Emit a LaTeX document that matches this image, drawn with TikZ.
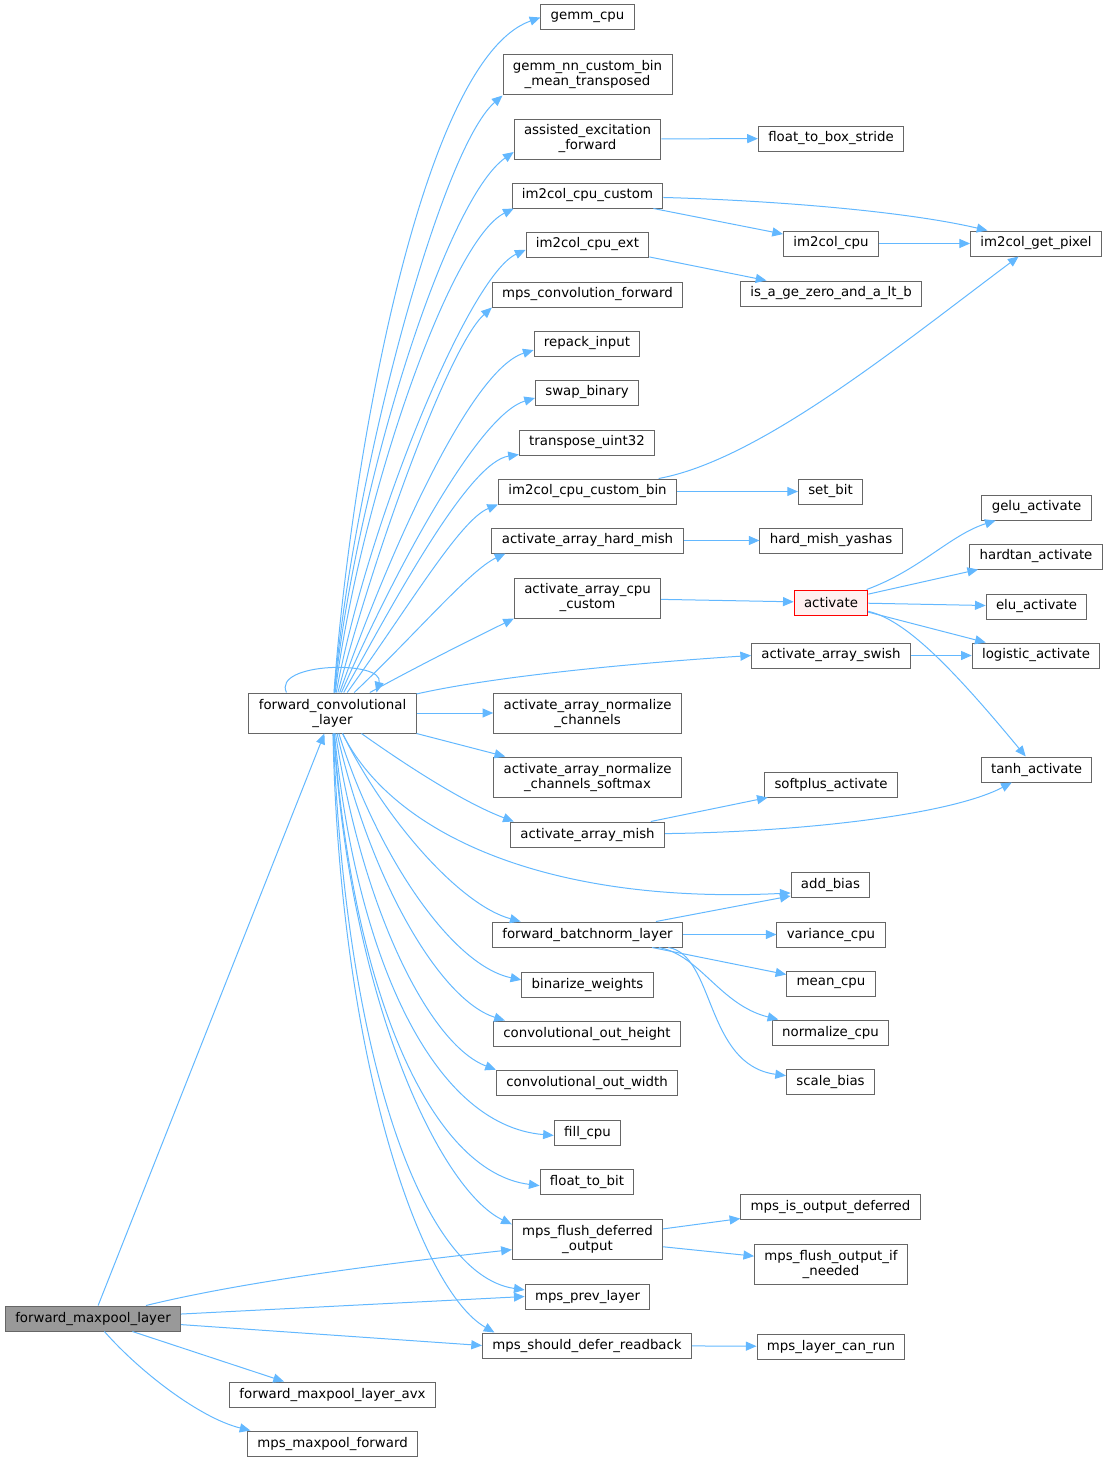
\documentclass[tikz,border=0pt]{standalone}
\usepackage{fontspec}
\setmainfont{DejaVu Sans}
\usetikzlibrary{arrows.meta}
\definecolor{callblue}{HTML}{63B8FF}
\definecolor{boxgray}{HTML}{666666}
\definecolor{rootgray}{HTML}{999999}
\definecolor{hotfill}{HTML}{FFF0F0}
\begin{document}
\begin{tikzpicture}[x=0.75pt,y=-0.75pt,
  fn/.style={draw=boxgray, fill=white, line width=0.75pt, inner xsep=7.4pt, inner ysep=2pt, minimum height=18.75pt, align=center, font=\fontsize{10}{11.25}\selectfont},
  fntwo/.style={fn, minimum height=30pt},
  root/.style={fn, fill=rootgray},
  hot/.style={fn, draw=red, fill=hotfill},
  call/.style={draw=callblue, line width=0.75pt, -{Triangle[length=8pt,width=6.8pt]}}]
\useasboundingbox (0,0) rectangle (1108,1463);
\node [root] (fml) at (93,1318.5) {forward\_maxpool\_layer};
\node [fntwo] (fcl) at (332.5,713) {forward\_convolutional\\\_layer};
\node [fn] (gemmcpu) at (587.5,17.5) {gemm\_cpu};
\node [fntwo] (gemmnn) at (587.5,75) {gemm\_nn\_custom\_bin\\\_mean\_transposed};
\node [fntwo] (assisted) at (587.5,139) {assisted\_excitation\\\_forward};
\node [fn] (imcustom) at (587.5,195.5) {im2col\_cpu\_custom};
\node [fn] (imext) at (587.5,244.5) {im2col\_cpu\_ext};
\node [fn] (mpsconv) at (587.5,294.5) {mps\_convolution\_forward};
\node [fn] (repack) at (587,343.5) {repack\_input};
\node [fn] (swapbin) at (587,392.5) {swap\_binary};
\node [fn] (transpose) at (587,442.5) {transpose\_uint32};
\node [fn] (imbin) at (587.5,491.5) {im2col\_cpu\_custom\_bin};
\node [fn] (hardmish) at (587.5,540.5) {activate\_array\_hard\_mish};
\node [fntwo] (cpucustom) at (587.5,598) {activate\_array\_cpu\\\_custom};
\node [fntwo] (normch) at (587.5,713) {activate\_array\_normalize\\\_channels};
\node [fntwo] (normsoft) at (587.5,777) {activate\_array\_normalize\\\_channels\_softmax};
\node [fn] (mish) at (587.5,834.5) {activate\_array\_mish};
\node [fn] (batchnorm) at (587.5,934.5) {forward\_batchnorm\_layer};
\node [fn] (binarize) at (587.5,984.5) {binarize\_weights};
\node [fn] (outh) at (587,1033.5) {convolutional\_out\_height};
\node [fn] (outw) at (587,1082.5) {convolutional\_out\_width};
\node [fn] (fillcpu) at (587.5,1132.5) {fill\_cpu};
\node [fn] (floatbit) at (587,1181.5) {float\_to\_bit};
\node [fntwo] (flush) at (587.5,1239) {mps\_flush\_deferred\\\_output};
\node [fn] (prevlayer) at (587.5,1296.5) {mps\_prev\_layer};
\node [fn] (defer) at (587,1345.5) {mps\_should\_defer\_readback};
\node [fn] (maxavx) at (332.5,1394.5) {forward\_maxpool\_layer\_avx};
\node [fn] (mpsmax) at (332.5,1443.5) {mps\_maxpool\_forward};
\node [fn] (boxstride) at (831,138.5) {float\_to\_box\_stride};
\node [fn] (imcpu) at (831,243.5) {im2col\_cpu};
\node [fn] (isage) at (831,293.5) {is\_a\_ge\_zero\_and\_a\_lt\_b};
\node [fn] (setbit) at (830.5,491.5) {set\_bit};
\node [fn] (yashas) at (831,540.5) {hard\_mish\_yashas};
\node [hot] (activate) at (831,602.5) {activate};
\node [fn] (swish) at (831,655.5) {activate\_array\_swish};
\node [fn] (softplus) at (831,784.5) {softplus\_activate};
\node [fn] (addbias) at (830.5,884.5) {add\_bias};
\node [fn] (variance) at (831,934.5) {variance\_cpu};
\node [fn] (meancpu) at (831,983.5) {mean\_cpu};
\node [fn] (normcpu) at (830.5,1032.5) {normalize\_cpu};
\node [fn] (scalebias) at (830.5,1081.5) {scale\_bias};
\node [fn] (isdeferred) at (830.5,1206.5) {mps\_is\_output\_deferred};
\node [fntwo] (flushif) at (831,1264) {mps\_flush\_output\_if\\\_needed};
\node [fn] (canrun) at (831,1346.5) {mps\_layer\_can\_run};
\node [fn] (getpixel) at (1036,243.5) {im2col\_get\_pixel};
\node [fn] (gelu) at (1036.5,507.5) {gelu\_activate};
\node [fn] (hardtan) at (1036,556.5) {hardtan\_activate};
\node [fn] (elu) at (1036.5,606.5) {elu\_activate};
\node [fn] (logistic) at (1036,655.5) {logistic\_activate};
\node [fn] (tanh) at (1036.5,769.5) {tanh\_activate};
\draw [call] (fml) -- (fcl);
\draw [call] (fml) .. controls (250,1280) and (400,1262) .. (flush.188);
\draw [call] (fml) -- (prevlayer.west);
\draw [call] (fml) -- (defer.west);
\draw [call] (fml) -- (maxavx.165);
\draw [call] (fml) .. controls (140,1372) and (200,1418) .. (mpsmax.171);
\draw [call] (fcl.156) .. controls (272,662) and (385,660) .. (fcl.25);
\draw [call] (fcl) .. controls (350,470) and (420,60) .. (gemmcpu.west);
\draw [call] (fcl) .. controls (352,480) and (440,150) .. (gemmnn.south west);
\draw [call] (fcl) .. controls (355,490) and (445,200) .. (assisted.190);
\draw [call] (fcl) .. controls (360,500) and (450,240) .. (imcustom.190);
\draw [call] (fcl) .. controls (368,520) and (470,275) .. (imext.185);
\draw [call] (fcl) .. controls (378,540) and (450,345) .. (mpsconv.south west);
\draw [call] (fcl) .. controls (388,555) and (470,370) .. (repack.187);
\draw [call] (fcl) .. controls (394,572) and (478,415) .. (swapbin.186);
\draw [call] (fcl) .. controls (400,590) and (470,462) .. (transpose.190);
\draw [call] (fcl) .. controls (410,605) and (460,520) .. (imbin.south west);
\draw [call] (fcl) .. controls (415,635) and (470,570) .. (hardmish.189);
\draw [call] (fcl) .. controls (420,665) and (470,640) .. (cpucustom.south west);
\draw [call] (fcl) .. controls (500,675) and (650,662) .. (swish.west);
\draw [call] (fcl) -- (normch);
\draw [call] (fcl.south east) -- (normsoft.166);
\draw [call] (fcl) .. controls (420,775) and (470,805) .. (mish.170);
\draw [call] (fcl) .. controls (390,830) and (540,905) .. (addbias.192);
\draw [call] (fcl) .. controls (385,820) and (460,905) .. (batchnorm.169);
\draw [call] (fcl) .. controls (375,850) and (450,965) .. (binarize.176);
\draw [call] (fcl) .. controls (370,880) and (440,1000) .. (outh.171);
\draw [call] (fcl) .. controls (362,910) and (430,1045) .. (outw.172);
\draw [call] (fcl) .. controls (355,950) and (430,1125) .. (fillcpu.185);
\draw [call] (fcl) .. controls (352,990) and (430,1172) .. (floatbit.185);
\draw [call] (fcl) .. controls (350,1000) and (440,1190) .. (flush.169);
\draw [call] (fcl) .. controls (345,1050) and (420,1275) .. (prevlayer.174);
\draw [call] (fcl) .. controls (340,1060) and (420,1290) .. (defer.172);
\draw [call] (assisted) -- (boxstride);
\draw [call] (imcustom) .. controls (760,200) and (900,210) .. (getpixel.165);
\draw [call] (imcustom) -- (imcpu);
\draw [call] (imcpu) -- (getpixel);
\draw [call] (imext) -- (isage);
\draw [call] (imbin) .. controls (760,460) and (900,345) .. (getpixel);
\draw [call] (imbin) -- (setbit);
\draw [call] (hardmish) -- (yashas);
\draw [call] (cpucustom) -- (activate);
\draw [call] (activate) .. controls (920,570) and (950,535) .. (gelu);
\draw [call] (activate) -- (hardtan);
\draw [call] (activate) -- (elu);
\draw [call] (activate) -- (logistic);
\draw [call] (activate) .. controls (905,620) and (950,665) .. (tanh);
\draw [call] (swish) -- (logistic);
\draw [call] (mish) -- (softplus);
\draw [call] (mish) .. controls (800,832) and (950,815) .. (tanh);
\draw [call] (batchnorm) -- (addbias.196);
\draw [call] (batchnorm) -- (variance);
\draw [call] (batchnorm) -- (meancpu);
\draw [call] (batchnorm) .. controls (700,955) and (720,1005) .. (normcpu);
\draw [call] (batchnorm) .. controls (715,955) and (705,1065) .. (scalebias);
\draw [call] (flush) -- (isdeferred);
\draw [call] (flush) -- (flushif);
\draw [call] (defer) -- (canrun);
\end{tikzpicture}
\end{document}
